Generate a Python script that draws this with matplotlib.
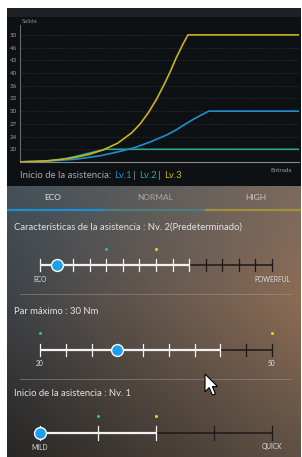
import numpy as np
import matplotlib
matplotlib.use("Agg")
import matplotlib.pyplot as plt
from matplotlib.patches import Polygon

plt.rcParams['font.family'] = ['Lato', 'DejaVu Sans']

# ---------------- data ----------------
ytick_vals = [20, 23.33, 26.67, 30, 33.33, 36.67, 40, 43.33, 46.67, 50]
ytick_labels = ['20', '24', '27', '30', '33', '36', '40', '43', '46', '50']

lv3_x = [0, 5, 10, 15, 20, 25, 30, 35, 40, 43, 46, 49, 52, 54, 56, 58.5, 60.2, 100]
lv3_y = [16.7, 16.8, 17.0, 17.35, 17.9, 18.7, 19.9, 21.6, 24.3, 26.6, 29.6, 33.2, 37.5,
         40.6, 44.0, 47.7, 50, 50]
lv1_x = [0, 10, 20, 28.7, 35, 40.5, 46.6, 52.7, 56, 59, 62, 65, 67.7, 100]
lv1_y = [16.7, 16.9, 17.4, 18.3, 19.3, 20.3, 21.9, 23.8, 25.1, 26.5, 27.8, 29.0, 30, 30]
lv2_x = [0, 5, 10.7, 16.8, 22.6, 27, 30.5, 100]
lv2_y = [16.7, 16.8, 17.0, 17.6, 18.6, 19.4, 20, 20]

tabs = ['ECO', 'NORMAL', 'HIGH']

# sliders: positions, knob value, end of white part, teal dot, yellow dot
s1_pos = list(range(15)); s1_val = 1; s1_lim = 9; s1_teal = 4; s1_yel = 7
s2_pos = [20, 23.33, 26.67, 30, 33.33, 36.67, 40, 43.33, 46.67, 50]
s2_val = 30; s2_lim = 43.33; s2_teal = 20; s2_yel = 50
s3_pos = [0, 1, 2, 3, 4]; s3_val = 0; s3_lim = 2; s3_teal = 1; s3_yel = 2

C_BLUE = '#1c8fcc'
C_TEAL = '#2aa58c'
C_YEL = '#c8b11e'

W, H = 302, 457
fig = plt.figure(figsize=(W / 100, H / 100), dpi=100)

# ---------------- background ----------------
def hx(c):
    c = c.lstrip('#')
    return np.array([int(c[i:i + 2], 16) for i in (0, 2, 4)]) / 255.0

img = np.ones((H, W, 3))
img[8:17, 7:301] = hx('#1d2125')
img[17:186, 7:301] = hx('#0e1114')
rows_y = [186, 300, 457]
left_c = [hx('#43515a'), hx('#3e4247'), hx('#282624')]
right_c = [hx('#7b6a5e'), hx('#8c6c54'), hx('#5e5044')]
xs = np.linspace(0, 1, 301 - 7)
for y in range(186, 457):
    if y <= 300:
        t = (y - 186) / (300 - 186)
        L = left_c[0] * (1 - t) + left_c[1] * t
        R = right_c[0] * (1 - t) + right_c[1] * t
    else:
        t = (y - 300) / (457 - 300)
        L = left_c[1] * (1 - t) + left_c[2] * t
        R = right_c[1] * (1 - t) + right_c[2] * t
    img[y, 7:301] = L[None, :] * (1 - xs[:, None]) + R[None, :] * xs[:, None]

bg = fig.add_axes([0, 0, 1, 1])
bg.imshow(img, extent=(0, W, H, 0), aspect='auto', interpolation='bilinear')
bg.set_xlim(0, W)
bg.set_ylim(H, 0)
bg.axis('off')

# ---------------- chart ----------------
ax = fig.add_axes([20 / W, (H - 162) / H, 279 / W, 145 / H])
ax.set_facecolor('none')
ax.set_xlim(0, 100)
ax.set_ylim(16.667, 54.69)
for v in ytick_vals:
    ax.axhline(v, color='#3a3d40', lw=0.6, ls=(0, (1, 2)), zorder=1)
ax.plot(lv2_x, lv2_y, color=C_TEAL, lw=1.2, zorder=3)
ax.plot(lv1_x, lv1_y, color=C_BLUE, lw=1.2, zorder=3)
ax.plot(lv3_x, lv3_y, color=C_YEL, lw=1.2, zorder=4)
ax.set_yticks(ytick_vals)
ax.set_yticklabels(ytick_labels, fontsize=4.5, color='#9a9a9a')
ax.tick_params(axis='y', length=0, pad=2)
ax.set_xticks([])
for s in ['top', 'right']:
    ax.spines[s].set_visible(False)
ax.spines['left'].set_color('#6a6a6a')
ax.spines['left'].set_bounds(16.667, 52.5)
ax.spines['bottom'].set_color('#8a8a8a')
ax.spines['left'].set_linewidth(0.8)
ax.spines['bottom'].set_linewidth(0.8)
ax.text(0.5, 53.6, 'Salida', fontsize=4.3, color='#8a8a8a', ha='left', va='center')

bg.text(292, 170, 'Entrada', fontsize=4.5, color='#9a9a9a', ha='right', va='center')
t0 = bg.text(20, 175.5, 'Inicio de la asistencia: ', fontsize=6.9, color='#a8a8a8',
             ha='left', va='center')
parts = [('Lv.1', C_BLUE), (' | ', '#a8a8a8'), ('Lv.2', C_TEAL), (' | ', '#a8a8a8'), ('Lv.3', C_YEL)]
prev = t0
for s, c in parts:
    prev = bg.annotate(s, xycoords=prev, xy=(1, 0), va='bottom', ha='left',
                       fontsize=6.9, color=c)

# ---------------- tabs ----------------
tab_cx = [53, 155, 256]
tab_col = ['#e6e6e6', '#a9a9a9', '#c9c9c9']
for name, cx, c in zip(tabs, tab_cx, tab_col):
    bg.text(cx, 198, name, fontsize=6, color=c, ha='center', va='center')
bg.plot([7, 105], [210, 210], color='#1a8fd4', lw=1.6, solid_capstyle='butt')
bg.plot([105, 205], [210, 210], color='#4e7e7c', lw=1.6, solid_capstyle='butt')
bg.plot([205, 301], [210, 210], color='#a28f36', lw=1.6, solid_capstyle='butt')

# ---------------- sliders ----------------
bg.text(14, 227, 'Características de la asistencia : Nv. 2(Predeterminado)',
        fontsize=6.85, color='#e2e2e2', ha='left', va='center')
bg.text(14, 311, 'Par máximo : 30 Nm', fontsize=6.85, color='#e2e2e2', ha='left', va='center')
bg.text(14, 394, 'Inicio de la asistencia : Nv. 1', fontsize=6.85, color='#e2e2e2',
        ha='left', va='center')
bg.plot([20, 291], [294, 294], color='#9a9a9a', lw=0.6, alpha=0.6)
bg.plot([20, 291], [379, 379], color='#9a9a9a', lw=0.6, alpha=0.6)


def slider(ytrack, pos, val, lim, teal, yel, labels, tick_h, dot_off):
    sa = fig.add_axes([40 / W, (H - ytrack - 20) / H, 232 / W, 40 / H])
    sa.set_xlim(pos[0], pos[-1])
    sa.set_ylim(-20, 20)
    sa.axis('off')
    sa.plot([pos[0], lim], [0, 0], color='#f2f2f2', lw=1.6, solid_capstyle='butt', clip_on=False)
    sa.plot([lim, pos[-1]], [0, 0], color='#1a1a1a', lw=1.1, solid_capstyle='butt', clip_on=False)
    for p in pos:
        col = '#f2f2f2' if p <= lim + 1e-9 else '#1a1a1a'
        sa.plot([p, p], [-tick_h, tick_h], color=col, lw=0.9, clip_on=False)
    sa.plot([teal], [dot_off], 'o', ms=2.2, color='#22c4a2', mew=0, clip_on=False)
    sa.plot([yel], [dot_off], 'o', ms=2.2, color='#ecd21c', mew=0, clip_on=False)
    sa.plot([val], [0], 'o', ms=8.5, color='#19a0ec', mec='white', mew=1.0,
            clip_on=False, zorder=5)
    sa.text(pos[0], -14, labels[0], fontsize=4.8, color='#dcdcdc', ha='center', va='center')
    sa.text(pos[-1], -14, labels[1], fontsize=4.8, color='#dcdcdc', ha='center', va='center')


slider(265, s1_pos, s1_val, s1_lim, s1_teal, s1_yel, ['ECO', 'POWERFUL'], 6, 16)
slider(350, s2_pos, s2_val, s2_lim, s2_teal, s2_yel, ['20', '50'], 6, 17)
slider(433, s3_pos, s3_val, s3_lim, s3_teal, s3_yel, ['MILD', 'QUICK'], 7, 17)

# ---------------- mouse cursor ----------------
tip = np.array([205, 374])
shape = np.array([(0, 0), (0, 17), (4, 13), (7, 20), (10, 19), (7, 12), (12, 12)]) * 1.05
bg.add_patch(Polygon(shape + tip, closed=True, facecolor='white', edgecolor='black',
                     lw=0.8, zorder=10))

fig.savefig('out.png', dpi=100)
